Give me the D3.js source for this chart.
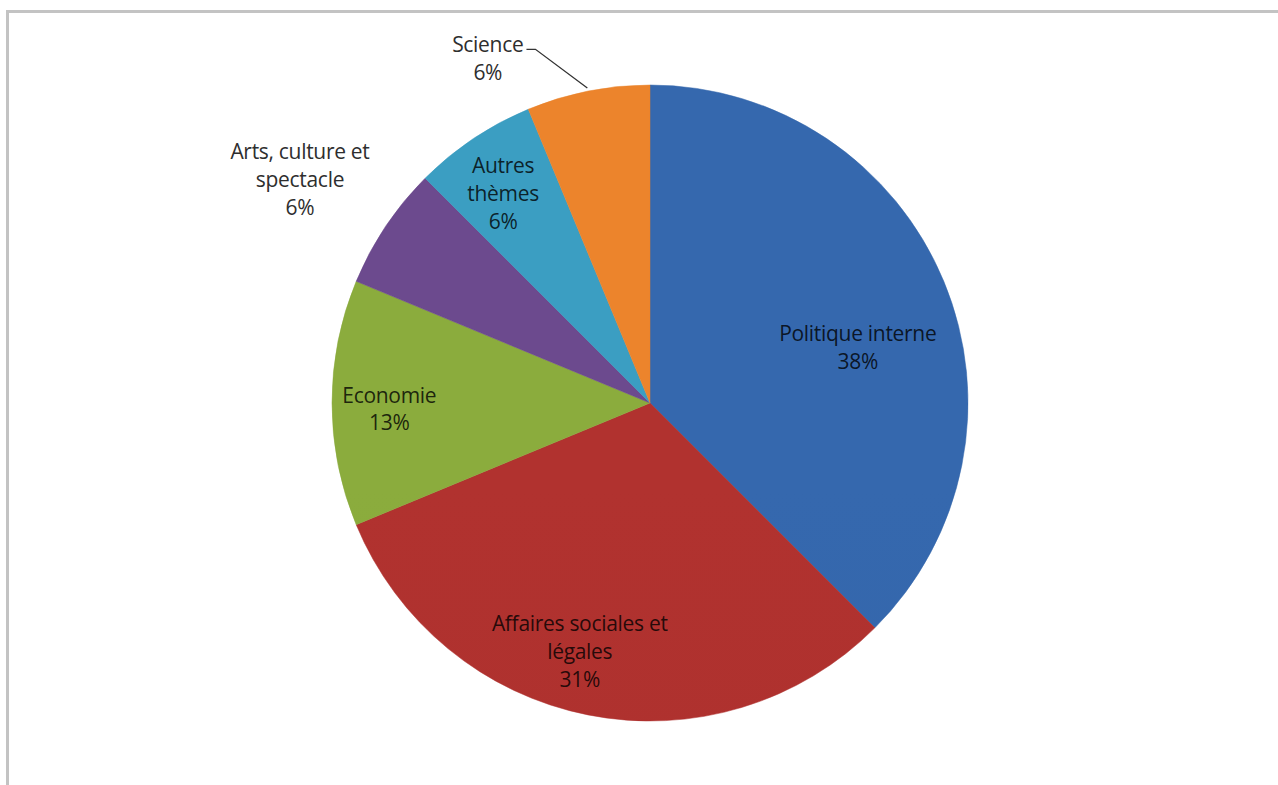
<!DOCTYPE html>
<html>
<head>
<meta charset="utf-8">
<script src="https://cdn.jsdelivr.net/npm/d3@7/dist/d3.min.js"></script>
<style>
  html, body { margin: 0; padding: 0; background: #fff; }
  svg { display: block; }
</style>
</head>
<body>
<svg id="chart" width="1278" height="785"></svg>
<script>
// ---- data ----
const categories = ["Politique interne", "Affaires sociales et légales", "Economie",
                    "Arts, culture et spectacle", "Autres thèmes", "Science"];
const labelLines = [["Politique interne"], ["Affaires sociales et", "légales"], ["Economie"],
                    ["Arts, culture et", "spectacle"], ["Autres", "thèmes"], ["Science"]];
const values = [6, 5, 2, 1, 1, 1];
const colors = ["#3466ab", "#ae312e", "#89a93c", "#6a498b", "#3a9bbf", "#e8822b"];
// label layout: fraction along slice angle, radius as multiple of pie radius, inside?
const labelFrac = [0.557, 0.54, 0.47, 0.444, 0.444, -0.12];
const labelRad  = [0.676, 0.814, 0.82, 1.305, 0.805, 1.198];
const labelInside = [true, true, true, false, true, false];
const leader = [false, false, false, false, false, true];

// ---- layout ----
const W = 1278, H = 785;
const cx = 650, cy = 403, R = 318;
const svg = d3.select("#chart");

// frame
svg.append("rect")
  .attr("x", 7.5).attr("y", 11.5)
  .attr("width", W + 20).attr("height", H + 20)
  .attr("fill", "none").attr("stroke", "#c3c3c3").attr("stroke-width", 3);

const defs = svg.append("defs");
colors.forEach((c, i) => {
  const g = defs.append("linearGradient")
    .attr("id", "grad" + i)
    .attr("gradientUnits", "userSpaceOnUse")
    .attr("x1", cx).attr("y1", cy - R).attr("x2", cx).attr("y2", cy + R);
  g.append("stop").attr("offset", "0%").attr("stop-color", d3.color(c).brighter(0.05).formatHex());
  g.append("stop").attr("offset", "55%").attr("stop-color", c);
  g.append("stop").attr("offset", "100%").attr("stop-color", d3.color(c).darker(0.4).formatHex());
});

const pie = d3.pie().sort(null).value(d => d);
const arcs = pie(values);
const arc = d3.arc().innerRadius(0).outerRadius(R);

const g = svg.append("g").attr("transform", `translate(${cx},${cy})`);

g.selectAll("path.slice")
  .data(arcs)
  .join("path")
  .attr("class", "slice")
  .attr("d", arc)
  .attr("fill", (d, i) => `url(#grad${i})`)
  .attr("stroke", (d, i) => colors[i])
  .attr("stroke-width", 0.5);

const total = d3.sum(values);
const fontSize = 21, lineH = 28;

arcs.forEach((d, i) => {
  const a = d.startAngle + labelFrac[i] * (d.endAngle - d.startAngle);
  const r = labelRad[i] * R;
  const x = r * Math.sin(a), y = -r * Math.cos(a);
  const lines = labelLines[i].concat([Math.round(values[i] / total * 100) + "%"]);
  const n = lines.length;
  const t = g.append("text")
    .attr("text-anchor", "middle")
    .attr("font-family", "'Open Sans', sans-serif")
    .attr("font-size", fontSize)
    .attr("letter-spacing", -0.3)
    .attr("fill", labelInside[i] ? "rgba(0,0,0,0.8)" : "#2e2e2e");
  lines.forEach((ln, k) => {
    t.append("tspan")
      .attr("x", x)
      .attr("y", y + (k - (n - 1) / 2) * lineH)
      .attr("dy", "0.35em")
      .text(ln);
  });
  if (leader[i]) {
    const firstY = y - (n - 1) / 2 * lineH;
    const node = t.select("tspan").node();
    const w = node.getComputedTextLength();
    const sx = x + w / 2 + 3;
    const mid = (d.startAngle + d.endAngle) / 2;
    const ex = R * 1.01 * Math.sin(mid), ey = -R * 1.01 * Math.cos(mid);
    g.append("polyline")
      .attr("points", [[sx, firstY + 5], [sx + 9, firstY + 5], [ex, ey]].map(p => p.join(",")).join(" "))
      .attr("fill", "none")
      .attr("stroke", "#333")
      .attr("stroke-width", 1.3);
  }
});
</script>
</body>
</html>
